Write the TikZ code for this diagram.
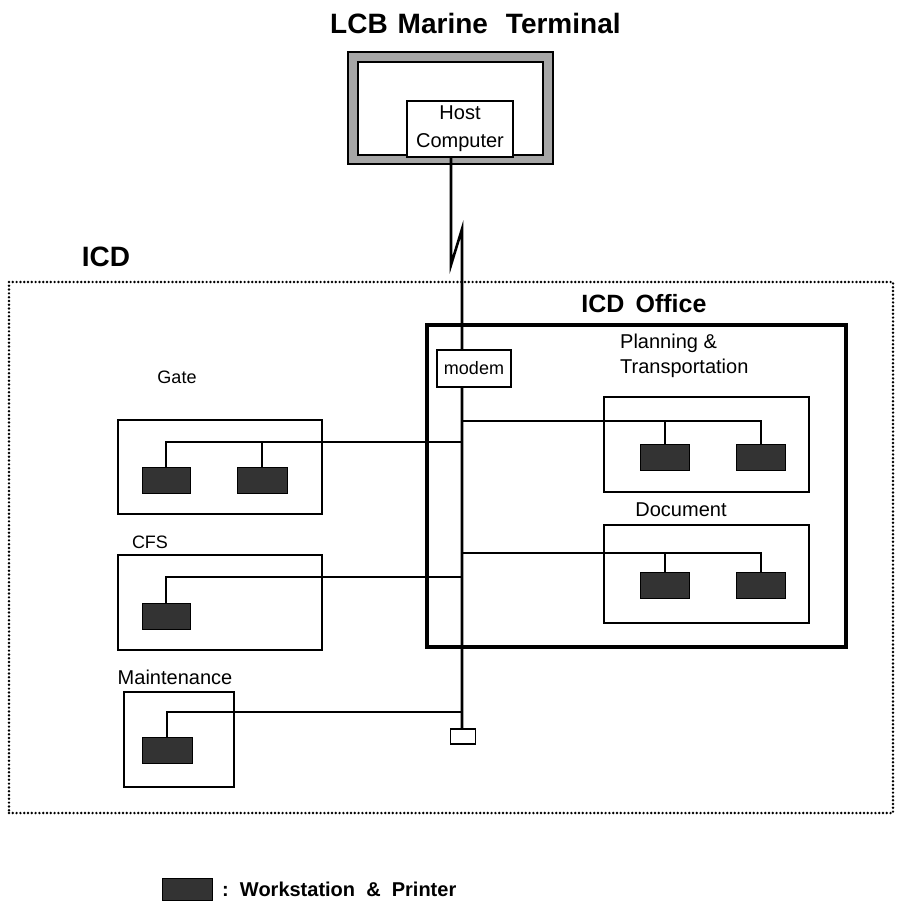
\documentclass[tikz,border=0pt]{standalone}
\usepackage{fontspec}
\setmainfont{Liberation Sans}
\newcommand{\setpx}[1]{\fontsize{#1}{#1}\selectfont}
\begin{document}
\begin{tikzpicture}[x=1pt,y=-1pt,
  box/.style={draw, line width=2.2pt, inner sep=0pt},
  wsbox/.style={fill=black!80, draw=black, line width=0.8pt, minimum width=49pt, minimum height=26pt, inner sep=0pt},
  wire/.style={line width=2pt},
  busline/.style={line width=2.6pt},
  dotline/.style={draw, line width=2.7pt, line cap=round, dash pattern=on 0pt off 3.8pt},
  heading/.style={font=\bfseries\setpx{27}, inner sep=0pt},
  lbl/.style={font=\setpx{20}, inner sep=0pt}]

\fill[white] (0,0) rectangle (899,905);
\useasboundingbox (0,0) rectangle (899,905);

% ---- LCB marine terminal ----
\node[heading, font=\bfseries\setpx{28}, anchor=west] (lcbtitle) at (330,23) {LCB\hspace{10pt}Marine\hspace{18pt}Terminal};
\node[draw, line width=2.8pt, fill=black!35, minimum width=205pt, minimum height=112pt, inner sep=0pt] (lcb) at (450.5,108) {};
\node[draw, line width=2pt, fill=white, minimum width=185pt, minimum height=93pt, inner sep=0pt] (lcbin) at (450.5,108.5) {};
\node[box, fill=white, minimum width=106pt, minimum height=56pt, align=center, font=\fontsize{20}{28}\selectfont] (host) at (460,129) {Host\\Computer};

% ---- ICD area ----
\node[dotline, minimum width=884pt, minimum height=531pt, inner sep=0pt] (icd) at (451,547.5) {};
\node[heading, font=\bfseries\setpx{28}] (icdlabel) at (106,257) {ICD};

% ---- ICD office ----
\node[box, line width=3.2pt, minimum width=419pt, minimum height=322pt] (office) at (636.5,486) {};
\node[heading, font=\bfseries\setpx{25}] (officelabel) at (644,304) {ICD\, Office};

\node[box, minimum width=205pt, minimum height=95pt] (plan) at (706.5,444.5) {};
\node[lbl, anchor=west, align=left, font=\fontsize{20}{25}\selectfont] (planlabel) at (620,355.5) {Planning \&\\Transportation};
\node[box, minimum width=205pt, minimum height=98pt] (doc) at (706.5,574) {};
\node[lbl] (doclabel) at (681,510) {Document};

% ---- outside sections ----
\node[box, minimum width=204pt, minimum height=94pt] (gate) at (220,467) {};
\node[lbl, font=\setpx{18}] (gatelabel) at (177,377) {Gate};
\node[box, minimum width=204pt, minimum height=95pt] (cfs) at (220,602.5) {};
\node[lbl, font=\setpx{18}] (cfslabel) at (150,542) {CFS};
\node[box, minimum width=110pt, minimum height=95pt] (maint) at (179,739.5) {};
\node[lbl] (maintlabel) at (175,677) {Maintenance};

% ---- backbone with radio link ----
\coordinate (kinkA) at (451,265);
\coordinate (kinkB) at (462,229);
\node[box, line width=1.8pt, minimum width=25pt, minimum height=15pt] (term) at (463,736.5) {};
\draw[busline] (host.south -| kinkA) -- (kinkA) -- (kinkB) -- (term.north -| kinkB);

% ---- branch wires ----
\coordinate (planbus) at (462,421);
\coordinate (docbus) at (462,553);
\coordinate (gatebus) at (462,442);
\coordinate (cfsbus) at (462,577);
\coordinate (maintbus) at (462,712);

\node[wsbox] (pws1) at (665,457) {};
\node[wsbox] (pws2) at (761,457) {};
\node[wsbox] (dws1) at (665,585.5) {};
\node[wsbox] (dws2) at (761,585.5) {};
\node[wsbox, minimum width=48pt] (gws1) at (166,480) {};
\node[wsbox, minimum width=50pt] (gws2) at (262,480) {};
\node[wsbox, minimum width=48pt] (cws) at (166,616.5) {};
\node[wsbox, minimum width=50pt] (mws) at (167,750.5) {};

\draw[wire] (planbus) -| (pws2.north);
\draw[wire] (pws1.north) -- (pws1.north |- planbus);
\draw[wire] (docbus) -| (dws2.north);
\draw[wire] (dws1.north) -- (dws1.north |- docbus);
\draw[wire] (gatebus) -| (gws1.north);
\draw[wire] (gws2.north) -- (gws2.north |- gatebus);
\draw[wire] (cfsbus) -| (cws.north);
\draw[wire] (maintbus) -| (mws.north);

% ---- modem sits on the backbone ----
\node[box, line width=1.8pt, fill=white, minimum width=74pt, minimum height=37pt, font=\setpx{18}] (modem) at (474,368.5) {modem};

% ---- legend ----
\node[wsbox, minimum width=50pt, minimum height=22pt] (legsw) at (187.5,889) {};
\node[anchor=west, inner sep=0pt, font=\bfseries\setpx{20}] (legtext) at (222,889) {:\ \ Workstation\ \ \&\ \ Printer};
\end{tikzpicture}
\end{document}
